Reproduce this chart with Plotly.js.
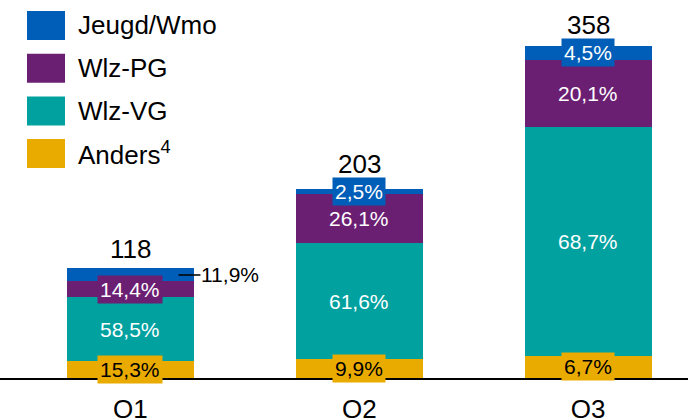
<!DOCTYPE html>
<html><head><meta charset="utf-8">
<script src="https://cdn.plot.ly/plotly-3.0.1.min.js"></script>
<style>html,body{margin:0;padding:0;background:#fff}#chart{width:688px;height:418px}</style>
</head><body><div id="chart"></div>
<script>
// ---- data ----
const quarters = ['Q1', 'Q2', 'Q3'];
const totals = [118, 203, 358];
const seriesNames = ['Anders<sup>4</sup>', 'Wlz-VG', 'Wlz-PG', 'Jeugd/Wmo'];
const pctAnders = [15.3, 9.9, 6.7];
const pctWlzVG = [58.5, 61.6, 68.7];
const pctWlzPG = [14.4, 26.1, 20.1];
const pctJeugd = [11.9, 2.5, 4.5];
const legendOrder = ['Jeugd/Wmo', 'Wlz-PG', 'Wlz-VG', 'Anders<sup>4</sup>'];

// ---- styles ----
const colors = ['#EAAB00', '#00A19F', '#6B1F73', '#005EB8'];
const textColors = ['#000000', '#ffffff', '#ffffff', '#ffffff'];
const FONT = 'Liberation Sans, Arial, sans-serif';
const W = 688, H = 418, MB = 40, MT = 0;
const PLOT_H = H - MB - MT;
const Y_MAX = 407;
const pxPerUnit = PLOT_H / Y_MAX;

const pcts = [pctAnders, pctWlzVG, pctWlzPG, pctJeugd];
const sums = quarters.map((q, i) => pcts.reduce((a, p) => a + p[i], 0));
const values = pcts.map(p => p.map((v, i) => totals[i] * v / sums[i]));

const traces = values.map((vals, s) => ({
  type: 'bar', x: quarters, y: vals, name: seriesNames[s],
  marker: {color: colors[s], line: {width: 0}},
  showlegend: false, hoverinfo: 'skip'
}));

const annotations = [];
const fmt = v => v.toFixed(1).replace('.', ',') + '%';
quarters.forEach((q, qi) => {
  let base = 0;
  values.forEach((vals, s) => {
    const mid = base + vals[qi] / 2;
    base += vals[qi];
    const outside = (s === 3 && qi === 0);
    if (outside) {
      annotations.push({
        x: qi, y: mid, xref: 'x', yref: 'y', text: fmt(pcts[s][qi]),
        showarrow: true, arrowhead: 0, arrowwidth: 1.5, arrowcolor: '#000',
        ax: 22, ay: 0, xanchor: 'left', yanchor: 'middle', xshift: 48,
        font: {family: FONT, size: 21, color: '#000'}, borderpad: 0
      });
    } else {
      annotations.push({
        x: qi, y: mid, xref: 'x', yref: 'y', text: fmt(pcts[s][qi]),
        showarrow: false, xanchor: 'center', yanchor: 'middle',
        bgcolor: colors[s], borderpad: 2,
        font: {family: FONT, size: 21, color: textColors[s]}
      });
    }
  });
  // total above bar
  const topPx = values[3][qi] * pxPerUnit;
  const overflow = (qi === 0) ? 0 : Math.max(0, 13 - topPx / 2);
  annotations.push({
    x: qi, y: totals[qi], xref: 'x', yref: 'y', text: String(totals[qi]),
    showarrow: false, xanchor: 'center', yanchor: 'bottom',
    yshift: Math.max(2, overflow - 2),
    font: {family: FONT, size: 26, color: '#000'}
  });
});

// legend (custom, large swatches)
const shapes = [];
legendOrder.forEach((name, i) => {
  const s = seriesNames.indexOf(name);
  const topPx = 11 + i * 42.7;
  const y1 = (H - MB - topPx) / PLOT_H, y0 = (H - MB - topPx - 29) / PLOT_H;
  shapes.push({type: 'rect', xref: 'paper', yref: 'paper', x0: 27 / W, x1: 65 / W,
    y0: y0, y1: y1, fillcolor: colors[s], line: {width: 0}, layer: 'above'});
  annotations.push({xref: 'paper', yref: 'paper', x: 76 / W, y: (y0 + y1) / 2,
    xanchor: 'left', yanchor: 'middle', showarrow: false, text: name,
    font: {family: FONT, size: 26, color: '#000'}});
});

const layout = {
  width: W, height: H,
  margin: {l: 0, r: 0, t: MT, b: MB, pad: 0},
  paper_bgcolor: '#fff', plot_bgcolor: '#fff',
  barmode: 'stack', bargap: 0.445,
  showlegend: false,
  font: {family: FONT, color: '#000'},
  xaxis: {type: 'category', range: [-0.570, 2.436], showgrid: false, zeroline: false,
    showline: true, linecolor: '#000', linewidth: 2, ticks: '', ticklabelstandoff: 7,
    tickfont: {family: FONT, size: 26, color: '#000'}, fixedrange: true},
  yaxis: {range: [0, Y_MAX], visible: false, showgrid: false, zeroline: false, fixedrange: true},
  annotations: annotations, shapes: shapes
};
Plotly.newPlot('chart', traces, layout, {displayModeBar: false, staticPlot: true});
</script>
</body></html>
